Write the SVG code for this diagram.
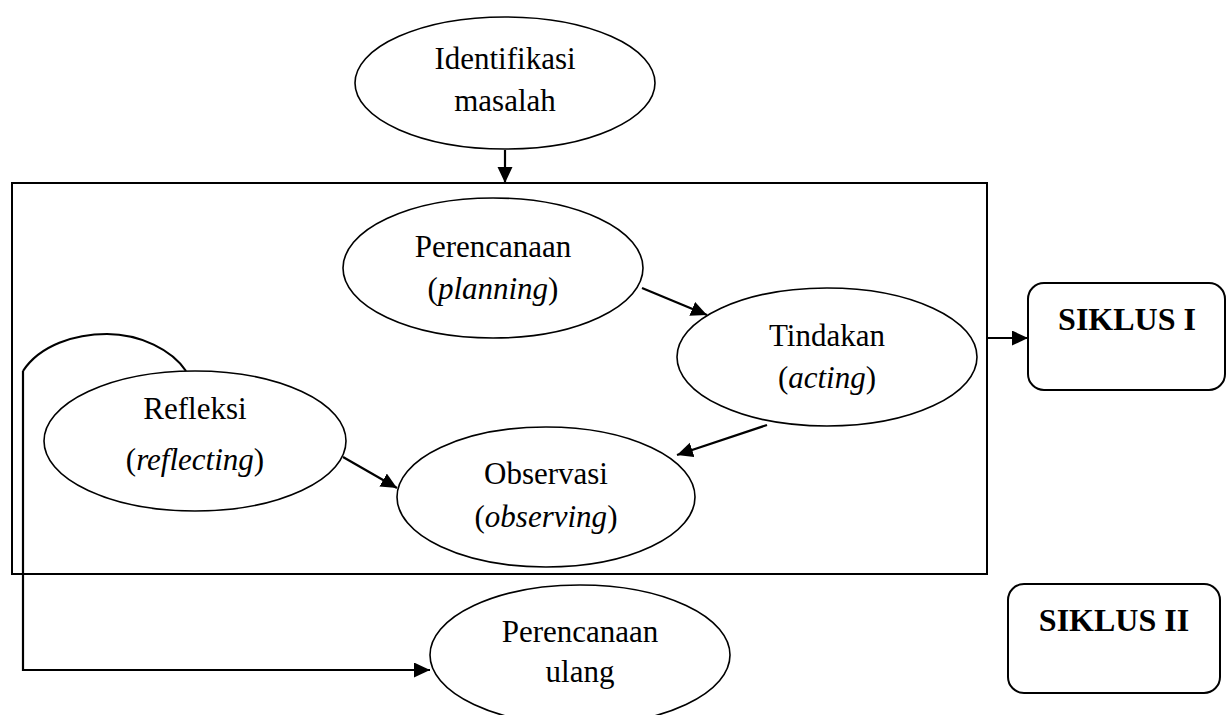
<svg xmlns="http://www.w3.org/2000/svg" width="1229" height="715" viewBox="0 0 1229 715">
<defs>
<marker id="ah" markerUnits="userSpaceOnUse" markerWidth="17" markerHeight="16" refX="16" refY="7.5" orient="auto">
<path d="M0,0 L16,7.5 L0,15 z" fill="#000"/>
</marker>
</defs>
<style>
.n{fill:#fff;stroke:#000;stroke-width:1.6}
.t{font-family:"Liberation Serif","Times New Roman",serif;font-size:31px;fill:#000;text-anchor:middle}
.b{font-family:"Liberation Serif","Times New Roman",serif;font-size:32px;font-weight:bold;fill:#000;text-anchor:middle}
.i{font-style:italic}
.c{fill:none;stroke:#000;stroke-width:2.2}
.box{fill:none;stroke:#000;stroke-width:2}
</style>
<rect width="1229" height="715" fill="#fff"/>
<g id="siklus-frame">
<rect class="box" x="12" y="183" width="975" height="391"/>
</g>
<g id="connectors">
<line class="c" x1="505" y1="150" x2="505" y2="183" marker-end="url(#ah)"/>
<line class="c" x1="642" y1="288" x2="707" y2="315" marker-end="url(#ah)"/>
<line class="c" x1="767" y1="425" x2="677" y2="455" marker-end="url(#ah)"/>
<line class="c" x1="343" y1="457" x2="397" y2="488" marker-end="url(#ah)"/>
<line class="c" x1="987" y1="338" x2="1028" y2="338" marker-end="url(#ah)"/>
<path class="c" d="M186,371 C172,350 140,334 107,334 C75,334 40,345 23,371"/>
<polyline class="c" points="23,371 23,670 430,670" marker-end="url(#ah)"/>
</g>
<g id="identifikasi">
<ellipse class="n" cx="505" cy="83" rx="150" ry="66"/>
<text class="t" x="505" y="69">Identifikasi</text>
<text class="t" x="505" y="111">masalah</text>
</g>
<g id="perencanaan">
<ellipse class="n" cx="493" cy="268" rx="150" ry="70"/>
<text class="t" x="493" y="257">Perencanaan</text>
<text class="t" x="493" y="299">(<tspan class="i">planning</tspan>)</text>
</g>
<g id="tindakan">
<ellipse class="n" cx="827" cy="357" rx="150" ry="69"/>
<text class="t" x="827" y="346">Tindakan</text>
<text class="t" x="827" y="388">(<tspan class="i">acting</tspan>)</text>
</g>
<g id="refleksi">
<ellipse class="n" cx="195" cy="441" rx="151" ry="70"/>
<text class="t" x="195" y="419">Refleksi</text>
<text class="t" x="195" y="470">(<tspan class="i">reflecting</tspan>)</text>
</g>
<g id="observasi">
<ellipse class="n" cx="546" cy="497" rx="149" ry="70"/>
<text class="t" x="546" y="484">Observasi</text>
<text class="t" x="546" y="527">(<tspan class="i">observing</tspan>)</text>
</g>
<g id="perencanaan-ulang">
<ellipse class="n" cx="580" cy="655" rx="150" ry="70"/>
<text class="t" x="580" y="642">Perencanaan</text>
<text class="t" x="580" y="682">ulang</text>
</g>
<g id="siklus-1">
<rect class="box" x="1028" y="283" width="197" height="107" rx="16"/>
<text class="b" x="1127" y="330">SIKLUS I</text>
</g>
<g id="siklus-2">
<rect class="box" x="1008" y="584" width="212" height="109" rx="16"/>
<text class="b" x="1114" y="631">SIKLUS II</text>
</g>
</svg>
